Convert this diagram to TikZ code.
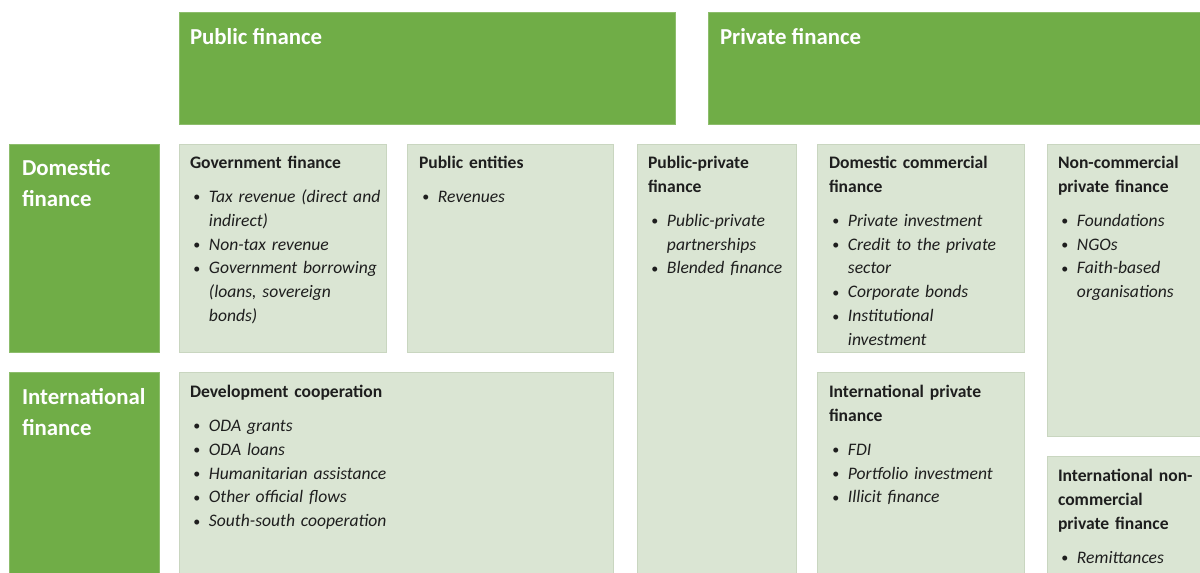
\documentclass[tikz,border=0pt]{standalone}
\usepackage{fontspec}
\setmainfont{Carlito}
\usetikzlibrary{positioning,fit}
\definecolor{green1}{HTML}{70AD47}
\definecolor{pale1}{HTML}{DAE5D3}
\definecolor{line1}{HTML}{C9D6C0}
\definecolor{ink1}{HTML}{1E1E1E}
\setlength{\parindent}{0pt}
\newcommand{\boxttl}[1]{{\bfseries #1\par}\vspace{5.7pt}}
\newcommand{\brk}{\penalty-10000\relax}
\newcommand{\itm}[1]{\par\noindent\hangindent=10.8pt\hangafter=1%
  \makebox[10.8pt][l]{\hspace{1.9pt}\raisebox{0.4pt}{\fontsize{8}{8}\selectfont\textbullet}}\textit{#1}\par}

\begin{document}
\begin{tikzpicture}[
    x=0.02cm, y=-0.02cm,
    hdbox/.style={fill=green1, draw=green1!80!white, line width=0.4pt, inner sep=0pt},
    lbox/.style={fill=pale1, draw=line1, line width=0.4pt, inner sep=0pt},
    hdtxt/.style={anchor=north west, inner sep=0pt, align=left, text=white,
                  font=\bfseries\fontsize{13}{18}\selectfont},
    btxt/.style={anchor=north west, inner sep=0pt, align=left, text width=5cm,
                 text=ink1, font=\fontsize{10}{13.6}\selectfont},
]
\useasboundingbox (0,0) rectangle (1200,573);
\clip (0,0) rectangle (1200,573);

% column and row headings
\node[hdbox, fit={(179,12) (675,124)}] (pub) {};
\node[hdbox, fit={(708,12) (1215,124)}] (priv) {};
\node[hdbox, fit={(9,144) (159,352)}] (dom) {};
\node[hdbox, fit={(9,372) (159,600)}] (intl) {};

\node[hdtxt] (pubttl) at ([shift={(11,16)}]pub.north west) {Public finance};
\node[hdtxt] (privttl) at ([shift={(12,16)}]priv.north west) {Private finance};
\node[hdtxt] (domttl) at ([shift={(13,15)}]dom.north west) {Domestic\\finance};
\node[hdtxt] (intlttl) at ([shift={(13,16)}]intl.north west) {International\\finance};

% flow boxes
\node[lbox, fit={(179,144) (386,352)}] (gov) {};
\node[lbox, fit={(407,144) (613,352)}] (ent) {};
\node[lbox, fit={(179,372) (613,600)}] (dev) {};
\node[lbox, fit={(637,144) (796,600)}] (ppp) {};
\node[lbox, fit={(817,144) (1024,352)}] (dcom) {};
\node[lbox, fit={(817,372) (1024,600)}] (iprv) {};
\node[lbox, fit={(1047,144) (1215,436)}] (ncom) {};
\node[lbox, fit={(1047,456) (1215,600)}] (incom) {};

\node[btxt] (govtxt) at ([shift={(11,12)}]gov.north west) {%
  \boxttl{Government finance}
  \itm{Tax revenue (direct and\brk indirect)}
  \itm{Non-tax revenue}
  \itm{Government borrowing\brk (loans, sovereign\brk bonds)}};
\node[btxt] (enttxt) at ([shift={(12,12)}]ent.north west) {%
  \boxttl{Public entities}
  \itm{Revenues}};
\node[btxt] (devtxt) at ([shift={(11,13)}]dev.north west) {%
  \boxttl{Development cooperation}
  \itm{ODA grants}
  \itm{ODA loans}
  \itm{Humanitarian assistance}
  \itm{Other official flows}
  \itm{South-south cooperation}};
\node[btxt] (ppptxt) at ([shift={(11,12)}]ppp.north west) {%
  \boxttl{Public-private\\finance}
  \itm{Public-private\brk partnerships}
  \itm{Blended finance}};
\node[btxt] (dcomtxt) at ([shift={(12,12)}]dcom.north west) {%
  \boxttl{Domestic commercial\\finance}
  \itm{Private investment}
  \itm{Credit to the private\brk sector}
  \itm{Corporate bonds}
  \itm{Institutional\brk investment}};
\node[btxt] (iprvtxt) at ([shift={(12,13)}]iprv.north west) {%
  \boxttl{International private\\finance}
  \itm{FDI}
  \itm{Portfolio investment}
  \itm{Illicit finance}};
\node[btxt] (ncomtxt) at ([shift={(11,12)}]ncom.north west) {%
  \boxttl{Non-commercial\\private finance}
  \itm{Foundations}
  \itm{NGOs}
  \itm{Faith-based\brk organisations}};
\node[btxt] (incomtxt) at ([shift={(11,13)}]incom.north west) {%
  \boxttl{International non-\\commercial\\private finance}
  \itm{Remittances}};
\end{tikzpicture}
\end{document}
